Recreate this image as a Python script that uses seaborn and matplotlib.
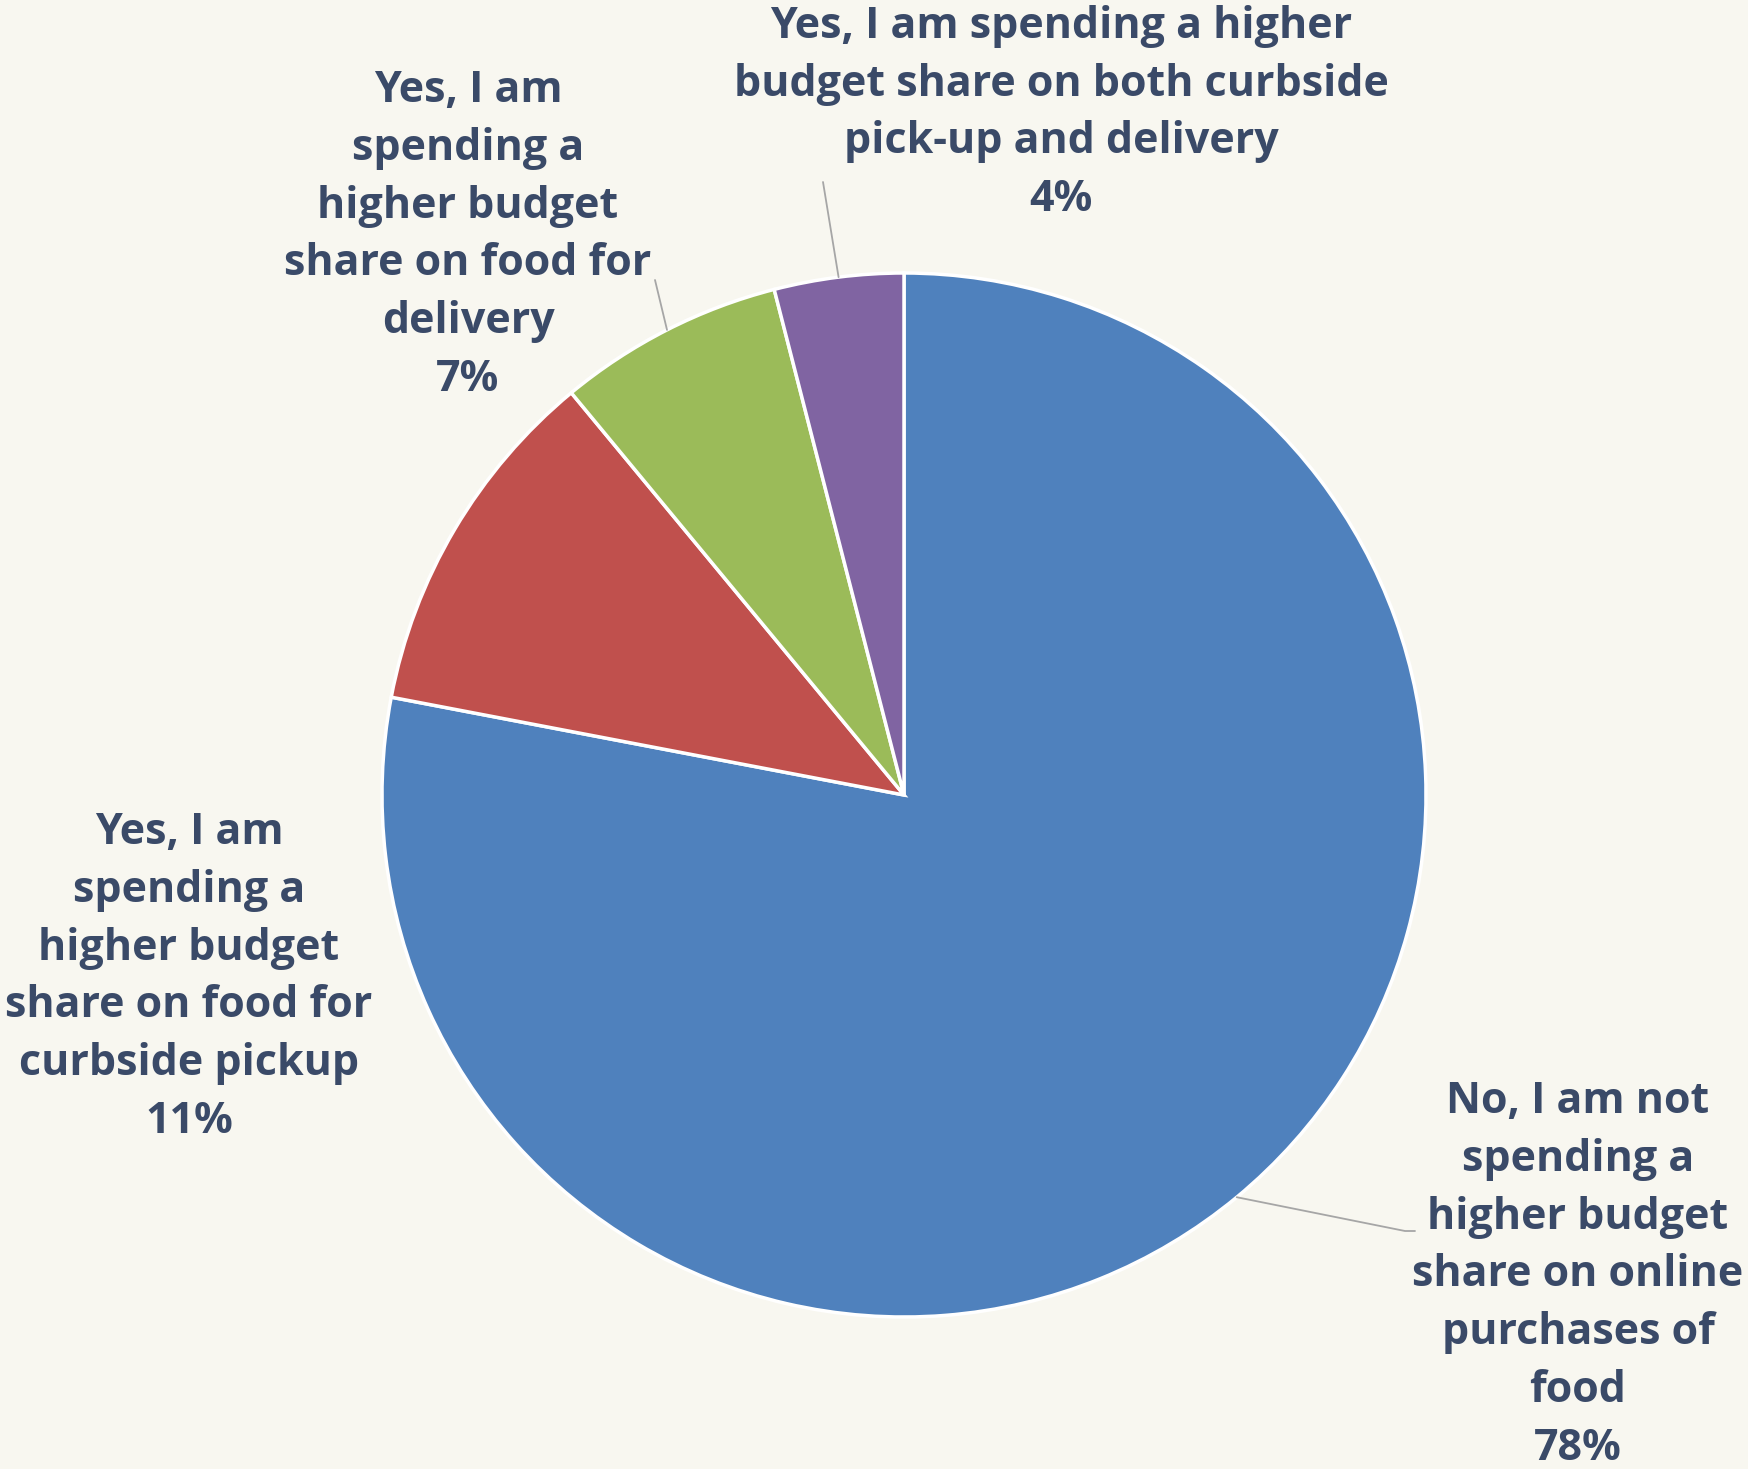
import matplotlib
matplotlib.use("Agg")
import matplotlib.pyplot as plt
import seaborn as sns
import numpy as np

# Survey responses (share of respondents, %)
categories = [
    "No, I am not\nspending a\nhigher budget\nshare on online\npurchases of\nfood",
    "Yes, I am\nspending a\nhigher budget\nshare on food for\ncurbside pickup",
    "Yes, I am\nspending a\nhigher budget\nshare on food for\ndelivery",
    "Yes, I am spending a higher\nbudget share on both curbside\npick-up and delivery",
]
values = [78, 11, 7, 4]
colors = ["#4F81BD", "#C0504D", "#9BBB59", "#8064A2"]

BG = "#F8F7F0"
TXT = "#3A4A68"

sns.set_style("white")
plt.rcParams["font.family"] = ["Open Sans", "DejaVu Sans"]

W, H = 1748, 1469
fig = plt.figure(figsize=(W / 100, H / 100), dpi=100, facecolor=BG)
ax = fig.add_axes([0, 0, 1, 1])
ax.set_facecolor(BG)

cx, cy, r = 904, H - 795, 522
wedges, _ = ax.pie(
    values, colors=colors, startangle=90, counterclock=False,
    center=(cx, cy), radius=r, frame=True,
    wedgeprops=dict(edgecolor="white", linewidth=2.5),
)
ax.set_xlim(0, W)
ax.set_ylim(0, H)
ax.axis("off")

# label block centres (x, y) and leader-line end points (None = no leader)
label_pos = [(1578, H - 1275), (189, H - 977), (468, H - 235), (1061, H - 113)]
leader_end = [[(1405, H - 1231), (1415, H - 1231)], None,
              [(655, H - 280)], [(823, H - 182)]]

for w, cat, val, pos, lead in zip(wedges, categories, values, label_pos, leader_end):
    if lead is not None:
        mid = np.deg2rad((w.theta1 + w.theta2) / 2)
        sx, sy = cx + r * np.cos(mid), cy + r * np.sin(mid)
        xs = [sx] + [p[0] for p in lead]
        ys = [sy] + [p[1] for p in lead]
        ax.plot(xs, ys, color="#A6A6A6", lw=1.3, zorder=1)
    ax.text(pos[0], pos[1], f"{cat}\n{val}%", ha="center", va="center",
            multialignment="center", fontsize=31, fontweight="bold",
            color=TXT, linespacing=1.45)

fig.savefig("out.png", dpi=100, facecolor=BG)
